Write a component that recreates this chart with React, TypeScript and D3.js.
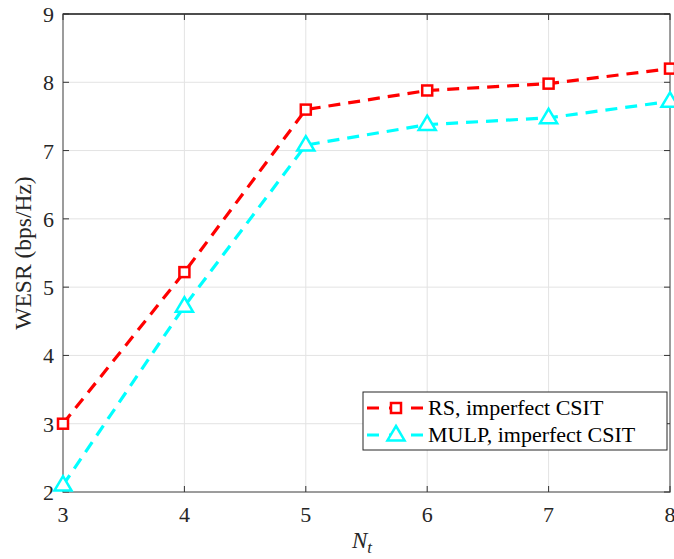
import React, { useEffect, useRef } from 'react';
import * as d3 from 'd3';

const nt = [3, 4, 5, 6, 7, 8];
const rsValues = [3.0, 5.22, 7.6, 7.88, 7.98, 8.2];
const mulpValues = [2.1, 4.72, 7.08, 7.38, 7.48, 7.72];
const xTicks = [3, 4, 5, 6, 7, 8];
const yTicks = [2, 3, 4, 5, 6, 7, 8, 9];
const legendLabels = ['RS, imperfect CSIT', 'MULP, imperfect CSIT'];

const W = 674;
const H = 559;
const m = { left: 63, right: 4, top: 14, bottom: 66 };
const font = "'Liberation Serif', 'DejaVu Serif', serif";

export default function App() {
  const ref = useRef<SVGSVGElement>(null);

  useEffect(() => {
    const svg = d3.select(ref.current);
    svg.selectAll('*').remove();

    const x = d3.scaleLinear().domain([3, 8]).range([m.left, W - m.right]);
    const y = d3.scaleLinear().domain([2, 9]).range([H - m.bottom - 1, m.top]);
    const x0 = x.range()[0], x1 = x.range()[1];
    const y0 = y.range()[0], y1 = y.range()[1];

    svg.append('rect').attr('width', W).attr('height', H).attr('fill', '#fff');

    // grid
    const grid = svg.append('g').attr('stroke', '#e3e3e3').attr('stroke-width', 1);
    xTicks.forEach((t) => grid.append('line').attr('x1', x(t)).attr('x2', x(t)).attr('y1', y0).attr('y2', y1));
    yTicks.forEach((t) => grid.append('line').attr('x1', x0).attr('x2', x1).attr('y1', y(t)).attr('y2', y(t)));

    // box
    svg.append('rect').attr('x', x0).attr('y', y1).attr('width', x1 - x0).attr('height', y0 - y1)
      .attr('fill', 'none').attr('stroke', '#808080').attr('stroke-width', 1.5);
    svg.append('line').attr('x1', x0).attr('x2', x1).attr('y1', y1).attr('y2', y1).attr('stroke', '#333').attr('stroke-width', 1.5);

    // ticks
    const tk = svg.append('g').attr('stroke', '#333').attr('stroke-width', 1);
    xTicks.forEach((t) => {
      tk.append('line').attr('x1', x(t)).attr('x2', x(t)).attr('y1', y0).attr('y2', y0 - 6);
      tk.append('line').attr('x1', x(t)).attr('x2', x(t)).attr('y1', y1).attr('y2', y1 + 6);
    });
    yTicks.forEach((t) => {
      tk.append('line').attr('x1', x0).attr('x2', x0 + 6).attr('y1', y(t)).attr('y2', y(t));
      tk.append('line').attr('x1', x1).attr('x2', x1 - 6).attr('y1', y(t)).attr('y2', y(t));
    });

    const lab = svg.append('g').style('font-family', font).style('font-size', '22px').attr('fill', '#262626');
    xTicks.forEach((t) => lab.append('text').attr('x', x(t)).attr('y', y0 + 30).attr('text-anchor', 'middle').text(t));
    yTicks.forEach((t) => lab.append('text').attr('x', x0 - 9).attr('y', y(t) + 8).attr('text-anchor', 'end').text(t));

    // axis labels
    const xl = svg.append('text').attr('x', 352).attr('y', 548)
      .style('font-family', font).style('font-size', '23px').attr('fill', '#262626');
    xl.append('tspan').style('font-style', 'italic').text('N');
    xl.append('tspan').style('font-style', 'italic').style('font-size', '17px').attr('dy', 5).text('t');

    svg.append('text').attr('transform', `translate(31,${(y0 + y1) / 2}) rotate(-90)`)
      .attr('text-anchor', 'middle').style('font-family', font).style('font-size', '23.5px').attr('fill', '#262626')
      .text('WESR (bps/Hz)');

    const line = d3.line<number>().x((_, i) => x(nt[i])).y((d) => y(d));
    const series = [
      { vals: rsValues, color: '#ff0000', marker: 'square' },
      { vals: mulpValues, color: '#00ffff', marker: 'triangle' },
    ];

    const drawMarker = (g: any, cx: number, cy: number, s: { color: string; marker: string }) => {
      if (s.marker === 'square') {
        g.append('rect').attr('x', cx - 5).attr('y', cy - 5).attr('width', 10).attr('height', 10)
          .attr('fill', '#fff').attr('stroke', s.color).attr('stroke-width', 2.5);
      } else {
        const r = 9;
        g.append('path').attr('d', `M${cx},${cy - r}L${cx + r * 0.95},${cy + r * 0.6}L${cx - r * 0.95},${cy + r * 0.6}Z`)
          .attr('fill', '#fff').attr('stroke', s.color).attr('stroke-width', 2.5);
      }
    };

    series.forEach((s) => {
      svg.append('path').datum(s.vals).attr('d', line).attr('fill', 'none').attr('stroke', s.color)
        .attr('stroke-width', 3.2).attr('stroke-dasharray', '12,8');
      const g = svg.append('g');
      s.vals.forEach((v, i) => drawMarker(g, x(nt[i]), y(v), s));
    });

    // legend
    const lg = svg.append('g');
    lg.append('rect').attr('x', 363).attr('y', 392).attr('width', 304).attr('height', 58)
      .attr('fill', '#fff').attr('stroke', '#262626').attr('stroke-width', 1);
    series.forEach((s, i) => {
      const cy = 408 + i * 27;
      lg.append('line').attr('x1', 367).attr('x2', 425).attr('y1', cy).attr('y2', cy)
        .attr('stroke', s.color).attr('stroke-width', 3.2).attr('stroke-dasharray', '12,10');
      drawMarker(lg, 396, cy, s);
      lg.append('text').attr('x', 428).attr('y', cy + 7).style('font-family', font).style('font-size', '22px')
        .attr('fill', '#000').text(legendLabels[i]);
    });
  }, []);

  return (
    <svg
      ref={ref}
      width={W}
      height={H}
      style={{ display: 'block', position: 'absolute', left: 0, top: 0, overflow: 'visible' }}
    />
  );
}
